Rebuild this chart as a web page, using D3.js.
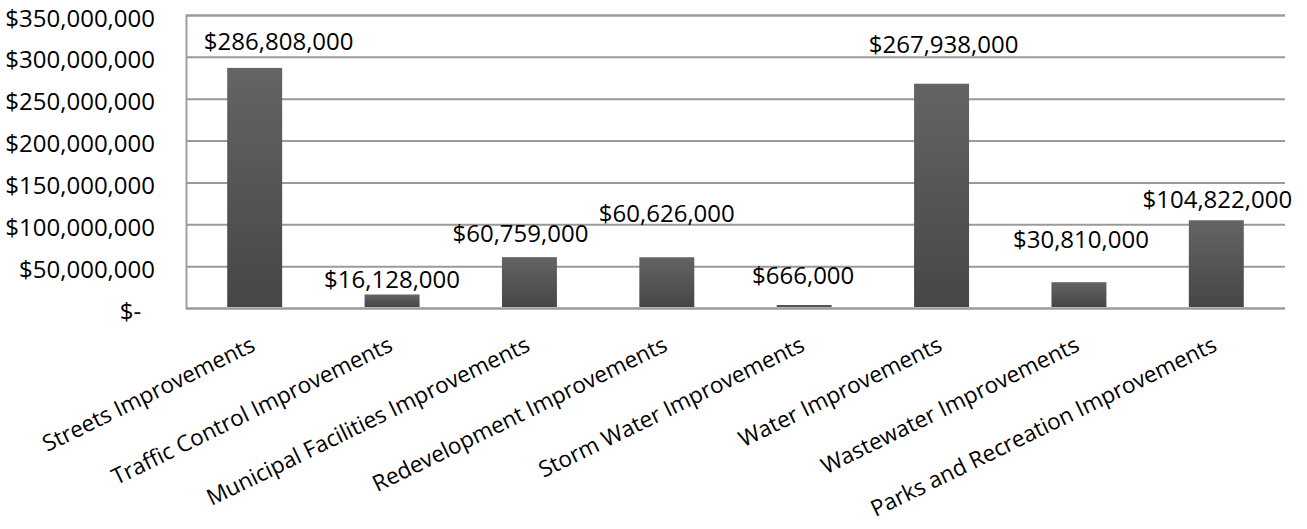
<!DOCTYPE html>
<html>
<head>
<meta charset="utf-8">
<script src="https://cdn.jsdelivr.net/npm/d3@7"></script>
<style>
  html, body { margin: 0; padding: 0; background: #fff; }
  svg { display: block; }
  text { font-family: "Open Sans", "Noto Sans", sans-serif; fill: #000; }
</style>
</head>
<body>
<svg id="chart" width="1307" height="529"></svg>
<script>
const categories = [
  "Streets Improvements",
  "Traffic Control Improvements",
  "Municipal Facilities Improvements",
  "Redevelopment Improvements",
  "Storm Water Improvements",
  "Water Improvements",
  "Wastewater Improvements",
  "Parks and Recreation Improvements"
];
const values = [286808000, 16128000, 60759000, 60626000, 666000, 267938000, 30810000, 104822000];
const yTicks = [0, 50000000, 100000000, 150000000, 200000000, 250000000, 300000000, 350000000];
const yTickLabels = ["$-\u2007", "$50,000,000", "$100,000,000", "$150,000,000", "$200,000,000", "$250,000,000", "$300,000,000", "$350,000,000"];

// label placement tweaks (pixels), as in the reference's manually placed labels
const labelLift = [18, 6, 15, 35, 23, 31, 34, 12];
const labelShift = [24, 0, -9, 0, -1, 2, 2, 1];

const svg = d3.select("#chart");
const margin = { left: 186, right: 22, top: 15, bottom: 221 };
const W = 1307, H = 529;
const x = d3.scaleBand().domain(categories)
  .range([margin.left, W - margin.right])
  .paddingInner(0.6).paddingOuter(0.3);
const y = d3.scaleLinear().domain([0, 350000000]).range([H - margin.bottom, margin.top]);

const fmt = d3.format("$,");

// gradient for bars
const defs = svg.append("defs");
const grad = defs.append("linearGradient").attr("id", "barGrad")
  .attr("x1", 0).attr("y1", 0).attr("x2", 0).attr("y2", 1);
grad.append("stop").attr("offset", "0%").attr("stop-color", "#646464");
grad.append("stop").attr("offset", "100%").attr("stop-color", "#464646");

// gridlines
const yAxis = d3.axisLeft(y).tickValues(yTicks)
  .tickSize(-(W - margin.left - margin.right))
  .tickFormat((d, i) => yTickLabels[i]);
const gy = svg.append("g").attr("transform", `translate(${margin.left},0)`).call(yAxis);
gy.select(".domain").attr("stroke", "#a0a0a0").attr("stroke-width", 2);
gy.selectAll(".tick line").attr("stroke", "#9a9a9a").attr("stroke-width", 2);
gy.selectAll(".tick text")
  .attr("x", -31).attr("dy", 11)
  .attr("font-size", 24)
  .attr("font-family", "'Open Sans', 'Noto Sans', sans-serif")
  .attr("fill", "#000");

// bars (sitting on top of the axis line, with a minimum visible height)
svg.append("g").selectAll("rect").data(values).join("rect")
  .attr("x", (d, i) => x(categories[i]))
  .attr("width", x.bandwidth())
  .attr("y", d => y(0) - 1 - Math.max(2, y(0) - 1 - y(d)))
  .attr("height", d => Math.max(2, y(0) - 1 - y(d)))
  .attr("fill", "url(#barGrad)");

// data labels
svg.append("g").selectAll("text").data(values).join("text")
  .attr("x", (d, i) => x(categories[i]) + x.bandwidth() / 2 + labelShift[i])
  .attr("y", (d, i) => y(d) - labelLift[i])
  .attr("text-anchor", "middle")
  .attr("font-size", 24)
  .text(d => fmt(d));

// category labels
const xAxis = d3.axisBottom(x).tickSize(0).tickPadding(0);
const gx = svg.append("g").attr("transform", `translate(0,${y(0)})`).call(xAxis);
gx.select(".domain").remove();
gx.selectAll(".tick text")
  .attr("y", 0).attr("dy", 0)
  .attr("text-anchor", "end")
  .attr("font-size", 22.5)
  .attr("font-family", "'Open Sans', 'Noto Sans', sans-serif")
  .attr("fill", "#000")
  .attr("transform", "translate(2,42) rotate(-26)");
</script>
</body>
</html>
